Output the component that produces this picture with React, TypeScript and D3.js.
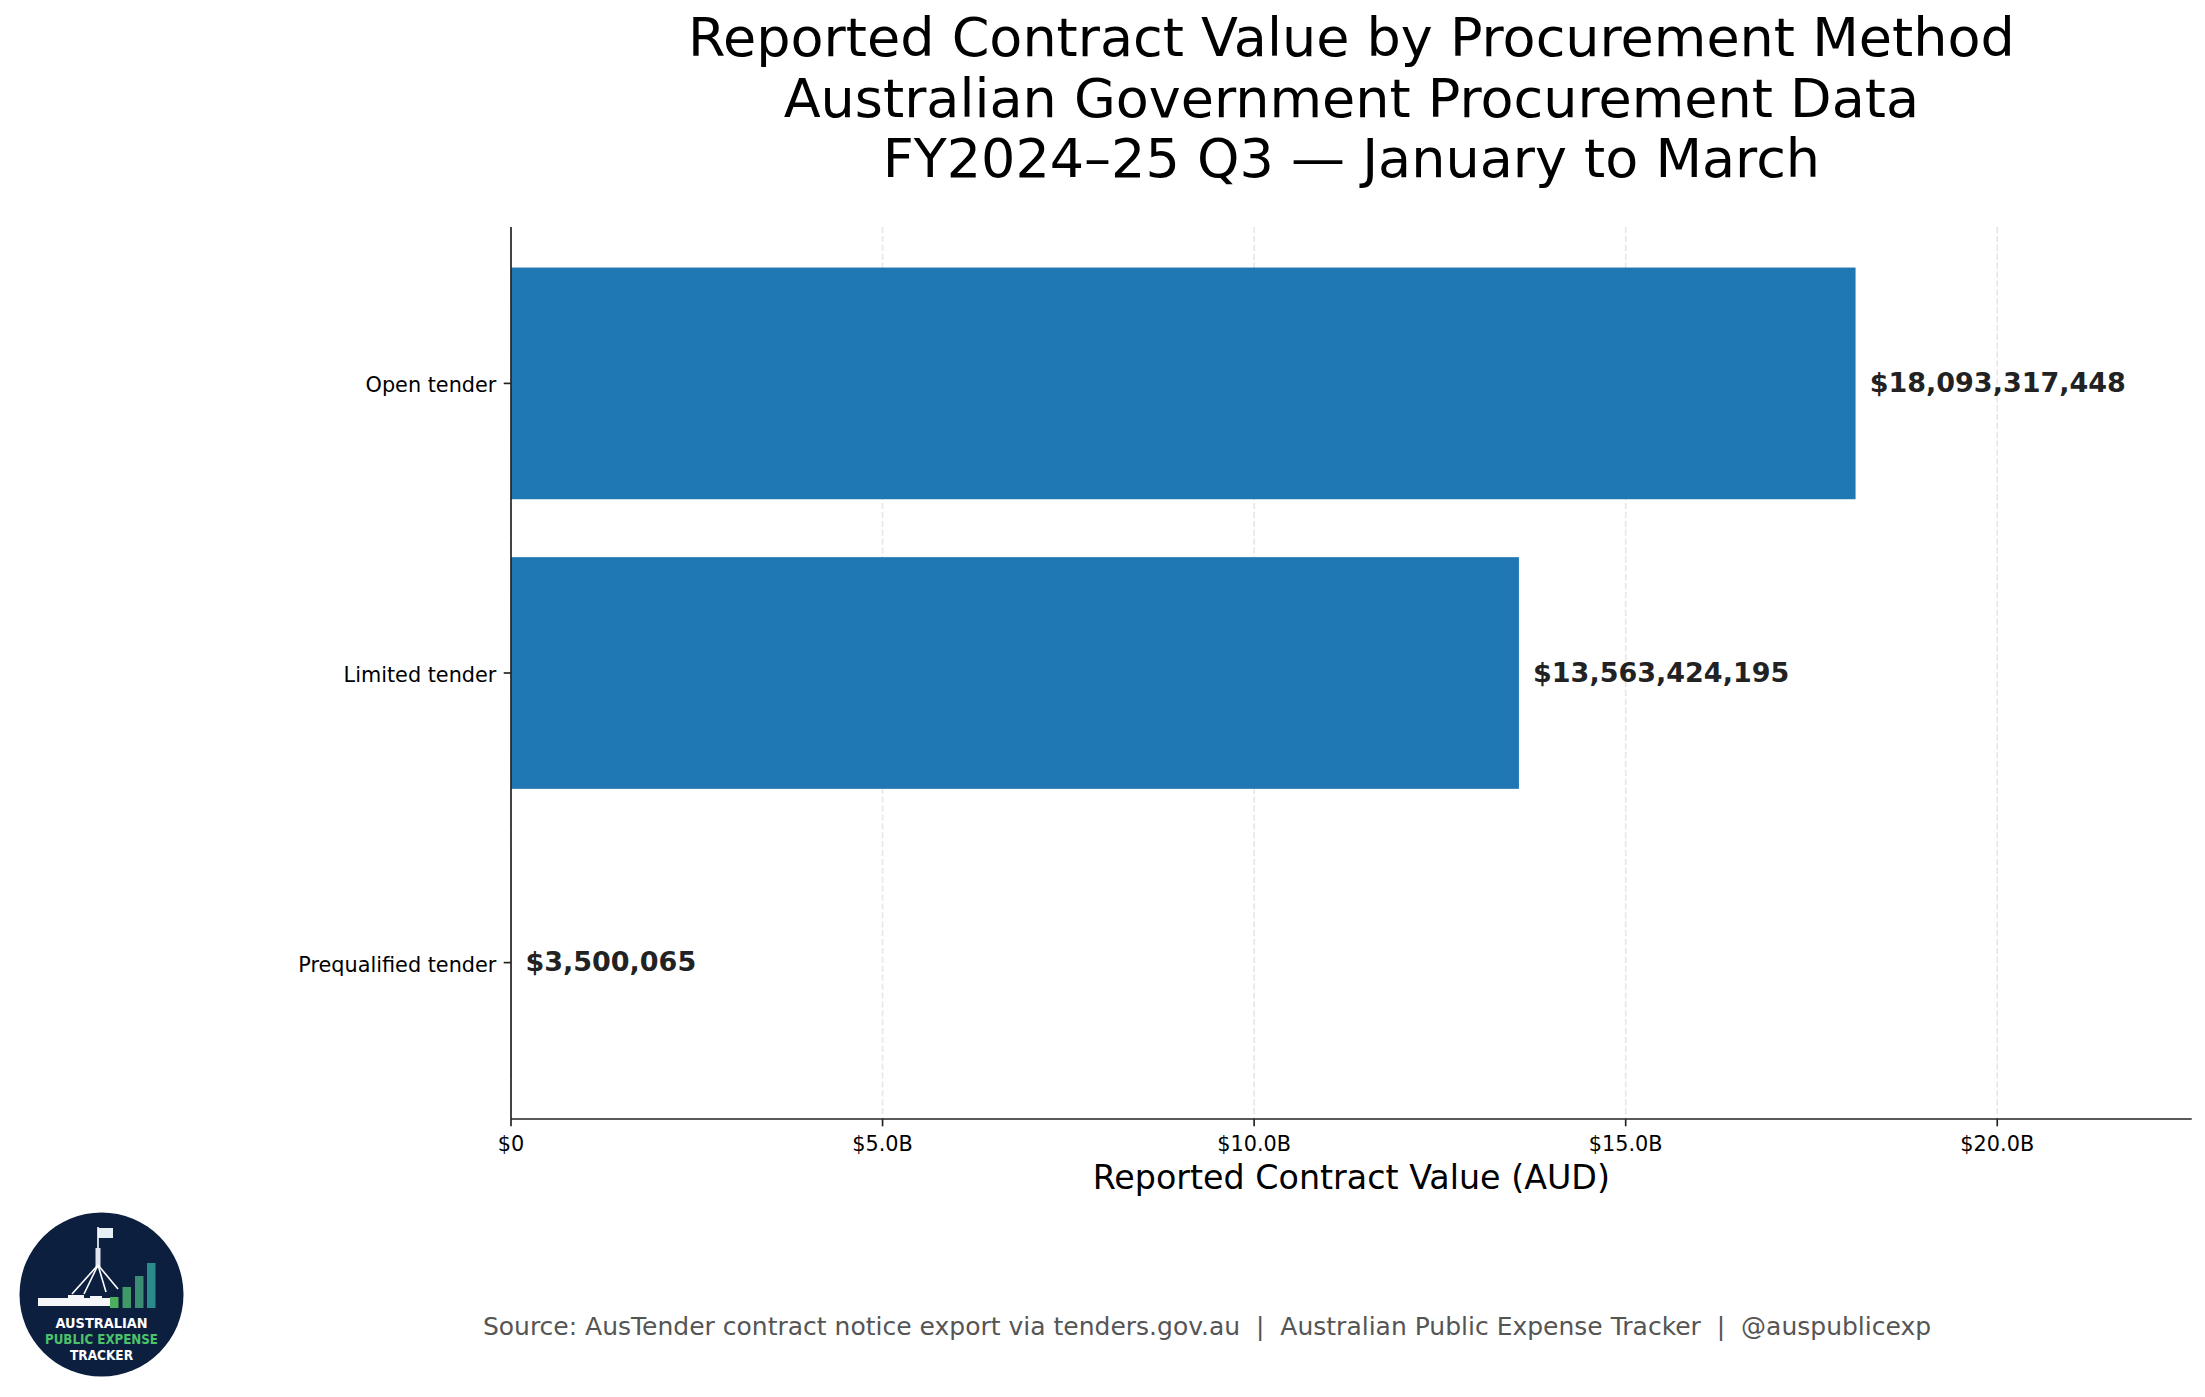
import React, { useEffect } from 'react';
import * as d3 from 'd3';

const categories = ['Open tender', 'Limited tender', 'Prequalified tender'];
const values = [18093317448, 13563424195, 3500065];
const xTicks = [0, 5e9, 10e9, 15e9, 20e9];
const titleLines = [
  'Reported Contract Value by Procurement Method',
  'Australian Government Procurement Data',
  'FY2024\u201325 Q3 \u2014 January to March',
];
const xLabel = 'Reported Contract Value (AUD)';
const footer =
  'Source: AusTender contract notice export via tenders.gov.au  |  Australian Public Expense Tracker  |  @auspublicexp';

const W = 2205;
const H = 1397;
const FONT = '"DejaVu Sans", Verdana, sans-serif';

const Logo = () => {
  const cx = 101.5;
  const cy = 1294.5;
  return (
    <g>
      <circle cx={cx} cy={cy} r={82} fill="#0c1f3f" />
      {/* flag */}
      <rect x={98} y={1228} width={15} height={10} fill="#e8eef6" />
      <line x1={98} y1={1227} x2={98} y2={1268} stroke="#fff" strokeWidth={1.6} />
      <rect x={95.5} y={1248} width={5} height={19} fill="#dfe6ef" />
      {/* legs */}
      <line x1={98} y1={1265} x2={72} y2={1294} stroke="#fff" strokeWidth={1.6} />
      <line x1={98} y1={1265} x2={84} y2={1294} stroke="#fff" strokeWidth={1.6} />
      <line x1={98} y1={1265} x2={106} y2={1292} stroke="#fff" strokeWidth={1.6} />
      <line x1={98} y1={1265} x2={118} y2={1289} stroke="#fff" strokeWidth={1.6} />
      {/* building */}
      <rect x={38} y={1298} width={72} height={8} fill="#f4f6f9" />
      <rect x={68} y={1295} width={16} height={11} fill="#f4f6f9" />
      <rect x={90} y={1296} width={12} height={6} fill="#f4f6f9" />
      {/* bars */}
      <rect x={110} y={1297} width={8.5} height={11} fill="#4caf5d" />
      <rect x={122.5} y={1287} width={8.5} height={21} fill="#3f9a67" />
      <rect x={135} y={1276} width={8.5} height={32} fill="#3a8c72" />
      <rect x={147} y={1263} width={8.5} height={45} fill="#2a8a8c" />
      <text x={cx} y={1328} textAnchor="middle" fontFamily={FONT} fontWeight="bold" fontSize={14.5} fill="#ffffff" textLength={92} lengthAdjust="spacingAndGlyphs">AUSTRALIAN</text>
      <text x={cx} y={1344} textAnchor="middle" fontFamily={FONT} fontWeight="bold" fontSize={14.5} fill="#4cc26a" textLength={113} lengthAdjust="spacingAndGlyphs">PUBLIC EXPENSE</text>
      <text x={cx} y={1360} textAnchor="middle" fontFamily={FONT} fontWeight="bold" fontSize={14.5} fill="#ffffff" textLength={63} lengthAdjust="spacingAndGlyphs">TRACKER</text>
    </g>
  );
};

export default function App() {
  useEffect(() => {
    document.body.style.margin = '0';
  }, []);

  const maxV = d3.max(values) as number;
  const left = 511;
  const right = 2191.7;
  const top = 227;
  const bottom = 1119;

  const x = d3.scaleLinear().domain([0, maxV * 1.25]).range([left, right]);
  const y = d3.scaleLinear().domain([-0.54, categories.length - 1 + 0.54]).range([top, bottom]);
  const fmtTick = (v: number) => (v === 0 ? '$0' : `$${(v / 1e9).toFixed(1)}B`);
  const fmtVal = (v: number) => `$${d3.format(',')(v)}`;
  const offset = maxV * 0.0105;
  const tickLen = 7.3;
  const spineColor = '#222';
  const lw = 1.67;

  return (
    <svg width={W} height={H} viewBox={`0 0 ${W} ${H}`} style={{ display: 'block', position: 'absolute', left: 0, top: 0, background: '#fff' }}>
      <rect x={0} y={0} width={W} height={H} fill="#fff" />
      {/* title */}
      <text textAnchor="middle" fontFamily={FONT} fontSize={54} fill="#000">
        {titleLines.map((t, i) => (
          <tspan key={i} x={(left + right) / 2} y={56 + i * 60.5}>{t}</tspan>
        ))}
      </text>
      {/* grid */}
      {xTicks.map((t) => (
        <line key={`g${t}`} x1={x(t)} x2={x(t)} y1={top} y2={bottom} stroke="#e7e7e7" strokeWidth={lw} strokeDasharray="6.2,2.7" />
      ))}
      {/* bars */}
      {values.map((v, i) => (
        <rect key={`b${i}`} x={x(0)} y={y(i - 0.4)} width={x(v) - x(0)} height={y(i + 0.4) - y(i - 0.4)} fill="#1f77b4" />
      ))}
      {/* value labels */}
      {values.map((v, i) => (
        <text key={`v${i}`} x={x(v + offset)} y={y(i) + 8.8} fontFamily={FONT} fontWeight="bold" fontSize={27} fill="#222">
          {fmtVal(v)}
        </text>
      ))}
      {/* spines */}
      <line x1={left} x2={left} y1={top} y2={bottom} stroke={spineColor} strokeWidth={lw} />
      <line x1={left} x2={right} y1={bottom} y2={bottom} stroke={spineColor} strokeWidth={lw} />
      {/* y ticks */}
      {categories.map((c, i) => (
        <g key={`y${i}`}>
          <line x1={left - tickLen} x2={left} y1={y(i)} y2={y(i)} stroke={spineColor} strokeWidth={lw} />
          <text x={left - tickLen - 7.3} y={y(i) + 9} textAnchor="end" fontFamily={FONT} fontSize={20.8} fill="#000">{c}</text>
        </g>
      ))}
      {/* x ticks */}
      {xTicks.map((t) => (
        <g key={`x${t}`}>
          <line x1={x(t)} x2={x(t)} y1={bottom} y2={bottom + tickLen} stroke={spineColor} strokeWidth={lw} />
          <text x={x(t)} y={1150.7} textAnchor="middle" fontFamily={FONT} fontSize={20.8} fill="#000">{fmtTick(t)}</text>
        </g>
      ))}
      <text x={(left + right) / 2} y={1188.5} textAnchor="middle" fontFamily={FONT} fontSize={33.3} fill="#000">{xLabel}</text>
      {/* footer */}
      <text x={1207} y={1335} textAnchor="middle" fontFamily={FONT} fontSize={25} fill="#555" style={{ whiteSpace: 'pre' }}>{footer}</text>
      <Logo />
    </svg>
  );
}
